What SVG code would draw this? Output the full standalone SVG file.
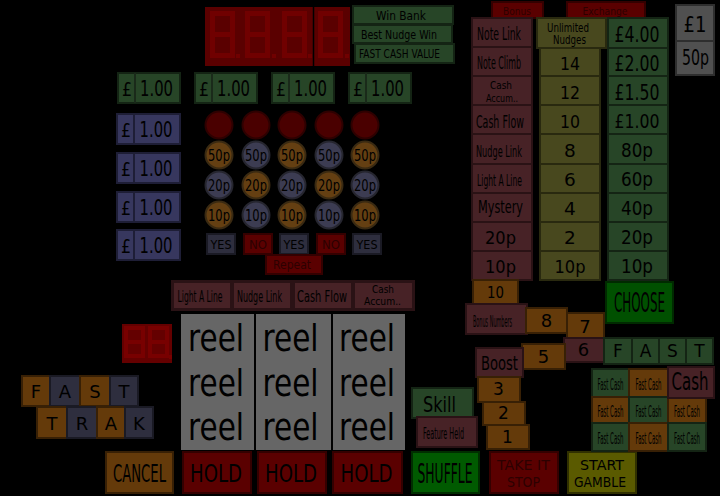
<svg xmlns="http://www.w3.org/2000/svg" width="720" height="496" viewBox="0 0 720 496">
<style>
text{font-family:"DejaVu Sans","Liberation Sans",sans-serif;text-anchor:middle;fill:#000}
.g{fill:#274527;stroke:#142414;stroke-width:2}
.b{fill:#37375e;stroke:#1e1e36;stroke-width:2}
.m{fill:#472226;stroke:#2a1215;stroke-width:2}
.o{fill:#48481e;stroke:#29290f;stroke-width:2}
.br{fill:#643a0a;stroke:#382005;stroke-width:2}
.r{fill:#5a0000;stroke:#340000;stroke-width:2}
.gy{fill:#505050;stroke:#2e2e2e;stroke-width:2}
.sl{fill:#2e2e3e;stroke:#1a1a24;stroke-width:2}
.rl{fill:#666666}
.cr{fill:#4a0000;stroke:#2e0000;stroke-width:2}
.co{fill:#643f12;stroke:#3a2a12;stroke-width:2}
.cg{fill:#3c3c52;stroke:#26262f;stroke-width:2}
.dr{fill:#2c0000}
.seg{fill:#700000;fill-rule:evenodd}
.div{stroke:#1a2a1a;stroke-width:2}
.bdiv{stroke:#1e1e36;stroke-width:2}
</style>
<rect width="720" height="496" fill="#000"/>

<g id="display-main">
<rect x="205" y="7" width="145" height="59" fill="#5a0000"/>
<line x1="313.5" y1="7" x2="313.5" y2="66" stroke="#000" stroke-width="1.5"/>
<path class="seg" d="M210 11h25v47h-25z M215 16h15v16h-15z M215 37h15v16h-15z"/>
<path class="seg" d="M245 11h25v47h-25z M250 16h15v16h-15z M250 37h15v16h-15z"/>
<path class="seg" d="M282 11h25v47h-25z M287 16h15v16h-15z M287 37h15v16h-15z"/>
<path class="seg" d="M318 11h25v47h-25z M323 16h15v16h-15z M323 37h15v16h-15z"/>
<rect x="236" y="54" width="4" height="4" fill="#700000"/>
<rect x="272" y="54" width="4" height="4" fill="#700000"/>
<rect x="308" y="54" width="4" height="4" fill="#700000"/>
<rect x="345" y="54" width="4" height="4" fill="#700000"/>
</g>

<g id="win-bank"><rect class="g" x="353" y="6" width="100" height="18"/><text x="401" y="20" font-size="11.5" textLength="50" lengthAdjust="spacingAndGlyphs">Win Bank</text></g>
<g id="best-nudge-win"><rect class="g" x="353" y="25" width="99" height="18"/><text transform="translate(399 38.5) scale(.82 1)" font-size="11.5" textLength="92.7" lengthAdjust="spacingAndGlyphs">Best Nudge Win</text></g>
<g id="fast-cash-value"><rect class="g" x="355" y="44" width="99" height="19"/><text transform="translate(399.5 58) scale(.75 1)" font-size="11.5" textLength="108" lengthAdjust="spacingAndGlyphs">FAST CASH VALUE</text></g>

<g id="top-pound-1"><rect class="g" x="118" y="73" width="62" height="30"/><line class="div" x1="135" y1="73" x2="135" y2="103"/><text transform="translate(127 96) scale(.79 1)" font-size="20" textLength="12.7" lengthAdjust="spacingAndGlyphs">£</text><text transform="translate(156.5 96) scale(.72 1)" font-size="20.5" textLength="45.8" lengthAdjust="spacingAndGlyphs">1.00</text></g>
<g id="top-pound-2"><rect class="g" x="195" y="73" width="62" height="30"/><line class="div" x1="212" y1="73" x2="212" y2="103"/><text transform="translate(204 96) scale(.79 1)" font-size="20" textLength="12.7" lengthAdjust="spacingAndGlyphs">£</text><text transform="translate(233.5 96) scale(.72 1)" font-size="20.5" textLength="45.8" lengthAdjust="spacingAndGlyphs">1.00</text></g>
<g id="top-pound-3"><rect class="g" x="272" y="73" width="62" height="30"/><line class="div" x1="289" y1="73" x2="289" y2="103"/><text transform="translate(281 96) scale(.79 1)" font-size="20" textLength="12.7" lengthAdjust="spacingAndGlyphs">£</text><text transform="translate(310.5 96) scale(.72 1)" font-size="20.5" textLength="45.8" lengthAdjust="spacingAndGlyphs">1.00</text></g>
<g id="top-pound-4"><rect class="g" x="349" y="73" width="62" height="30"/><line class="div" x1="366" y1="73" x2="366" y2="103"/><text transform="translate(358 96) scale(.79 1)" font-size="20" textLength="12.7" lengthAdjust="spacingAndGlyphs">£</text><text transform="translate(387.5 96) scale(.72 1)" font-size="20.5" textLength="45.8" lengthAdjust="spacingAndGlyphs">1.00</text></g>

<g id="side-pound-1"><rect class="b" x="117" y="114" width="63" height="30"/><line class="bdiv" x1="134" y1="114" x2="134" y2="144"/><text transform="translate(126 137) scale(.79 1)" font-size="20" textLength="12.7" lengthAdjust="spacingAndGlyphs">£</text><text transform="translate(156 137) scale(.72 1)" font-size="20.5" textLength="45.8" lengthAdjust="spacingAndGlyphs">1.00</text></g>
<g id="side-pound-2"><rect class="b" x="117" y="153" width="63" height="30"/><line class="bdiv" x1="134" y1="153" x2="134" y2="183"/><text transform="translate(126 176) scale(.79 1)" font-size="20" textLength="12.7" lengthAdjust="spacingAndGlyphs">£</text><text transform="translate(156 176) scale(.72 1)" font-size="20.5" textLength="45.8" lengthAdjust="spacingAndGlyphs">1.00</text></g>
<g id="side-pound-3"><rect class="b" x="117" y="192" width="63" height="30"/><line class="bdiv" x1="134" y1="192" x2="134" y2="222"/><text transform="translate(126 215) scale(.79 1)" font-size="20" textLength="12.7" lengthAdjust="spacingAndGlyphs">£</text><text transform="translate(156 215) scale(.72 1)" font-size="20.5" textLength="45.8" lengthAdjust="spacingAndGlyphs">1.00</text></g>
<g id="side-pound-4"><rect class="b" x="117" y="230" width="63" height="30"/><line class="bdiv" x1="134" y1="230" x2="134" y2="260"/><text transform="translate(126 253) scale(.79 1)" font-size="20" textLength="12.7" lengthAdjust="spacingAndGlyphs">£</text><text transform="translate(156 253) scale(.72 1)" font-size="20.5" textLength="45.8" lengthAdjust="spacingAndGlyphs">1.00</text></g>

<g id="coins">
<g id="coin-red-1"><circle class="cr" cx="219" cy="125" r="13.5"/></g>
<g id="coin-red-2"><circle class="cr" cx="256" cy="125" r="13.5"/></g>
<g id="coin-red-3"><circle class="cr" cx="292" cy="125" r="13.5"/></g>
<g id="coin-red-4"><circle class="cr" cx="329" cy="125" r="13.5"/></g>
<g id="coin-red-5"><circle class="cr" cx="365" cy="125" r="13.5"/></g>
<g id="coin-50-1"><circle class="co" cx="219" cy="155" r="13.5"/><text transform="translate(219 161) scale(.77 1)" font-size="15" textLength="28.6" lengthAdjust="spacingAndGlyphs">50p</text></g>
<g id="coin-50-2"><circle class="cg" cx="256" cy="155" r="13.5"/><text transform="translate(256 161) scale(.77 1)" font-size="15" textLength="28.6" lengthAdjust="spacingAndGlyphs">50p</text></g>
<g id="coin-50-3"><circle class="co" cx="292" cy="155" r="13.5"/><text transform="translate(292 161) scale(.77 1)" font-size="15" textLength="28.6" lengthAdjust="spacingAndGlyphs">50p</text></g>
<g id="coin-50-4"><circle class="cg" cx="329" cy="155" r="13.5"/><text transform="translate(329 161) scale(.77 1)" font-size="15" textLength="28.6" lengthAdjust="spacingAndGlyphs">50p</text></g>
<g id="coin-50-5"><circle class="co" cx="365" cy="155" r="13.5"/><text transform="translate(365 161) scale(.77 1)" font-size="15" textLength="28.6" lengthAdjust="spacingAndGlyphs">50p</text></g>
<g id="coin-20-1"><circle class="cg" cx="219" cy="185" r="13.5"/><text transform="translate(219 191) scale(.77 1)" font-size="15" textLength="28.6" lengthAdjust="spacingAndGlyphs">20p</text></g>
<g id="coin-20-2"><circle class="co" cx="256" cy="185" r="13.5"/><text transform="translate(256 191) scale(.77 1)" font-size="15" textLength="28.6" lengthAdjust="spacingAndGlyphs">20p</text></g>
<g id="coin-20-3"><circle class="cg" cx="292" cy="185" r="13.5"/><text transform="translate(292 191) scale(.77 1)" font-size="15" textLength="28.6" lengthAdjust="spacingAndGlyphs">20p</text></g>
<g id="coin-20-4"><circle class="co" cx="329" cy="185" r="13.5"/><text transform="translate(329 191) scale(.77 1)" font-size="15" textLength="28.6" lengthAdjust="spacingAndGlyphs">20p</text></g>
<g id="coin-20-5"><circle class="cg" cx="365" cy="185" r="13.5"/><text transform="translate(365 191) scale(.77 1)" font-size="15" textLength="28.6" lengthAdjust="spacingAndGlyphs">20p</text></g>
<g id="coin-10-1"><circle class="co" cx="219" cy="215" r="13.5"/><text transform="translate(219 221) scale(.77 1)" font-size="15" textLength="28.6" lengthAdjust="spacingAndGlyphs">10p</text></g>
<g id="coin-10-2"><circle class="cg" cx="256" cy="215" r="13.5"/><text transform="translate(256 221) scale(.77 1)" font-size="15" textLength="28.6" lengthAdjust="spacingAndGlyphs">10p</text></g>
<g id="coin-10-3"><circle class="co" cx="292" cy="215" r="13.5"/><text transform="translate(292 221) scale(.77 1)" font-size="15" textLength="28.6" lengthAdjust="spacingAndGlyphs">10p</text></g>
<g id="coin-10-4"><circle class="cg" cx="329" cy="215" r="13.5"/><text transform="translate(329 221) scale(.77 1)" font-size="15" textLength="28.6" lengthAdjust="spacingAndGlyphs">10p</text></g>
<g id="coin-10-5"><circle class="co" cx="365" cy="215" r="13.5"/><text transform="translate(365 221) scale(.77 1)" font-size="15" textLength="28.6" lengthAdjust="spacingAndGlyphs">10p</text></g>
</g>

<g id="yes-1"><rect class="sl" x="207" y="234" width="28" height="20"/><text x="221" y="249" font-size="12" textLength="21" lengthAdjust="spacingAndGlyphs">YES</text></g>
<g id="no-1"><rect class="r" x="244" y="234" width="28" height="20"/><text class="dr" x="258" y="249" font-size="12" textLength="18" lengthAdjust="spacingAndGlyphs">NO</text></g>
<g id="yes-2"><rect class="sl" x="280" y="234" width="28" height="20"/><text x="294" y="249" font-size="12" textLength="21" lengthAdjust="spacingAndGlyphs">YES</text></g>
<g id="no-2"><rect class="r" x="317" y="234" width="28" height="20"/><text class="dr" x="331" y="249" font-size="12" textLength="18" lengthAdjust="spacingAndGlyphs">NO</text></g>
<g id="yes-3"><rect class="sl" x="353" y="234" width="28" height="20"/><text x="367" y="249" font-size="12" textLength="21" lengthAdjust="spacingAndGlyphs">YES</text></g>
<g id="repeat"><rect class="r" x="266" y="255" width="56" height="19"/><text class="dr" transform="translate(292 269) scale(.82 1)" font-size="13" textLength="46.3" lengthAdjust="spacingAndGlyphs">Repeat</text></g>

<g id="bonus"><rect class="r" x="492" y="2" width="51" height="16"/><text class="dr" transform="translate(517 15) scale(.82 1)" font-size="11" textLength="34.1" lengthAdjust="spacingAndGlyphs">Bonus</text></g>
<g id="exchange"><rect class="r" x="567" y="2" width="78" height="16"/><text class="dr" transform="translate(605 15) scale(.83 1)" font-size="11" textLength="54.2" lengthAdjust="spacingAndGlyphs">Exchange</text></g>

<g id="bonus-note-link"><rect class="m" x="472" y="18" width="60" height="29"/><text transform="translate(499 40) scale(.547 1)" font-size="17" textLength="80.4" lengthAdjust="spacingAndGlyphs">Note Link</text></g>
<g id="bonus-note-climb"><rect class="m" x="472" y="47" width="60" height="29"/><text transform="translate(499 69) scale(.467 1)" font-size="17" textLength="94.2" lengthAdjust="spacingAndGlyphs">Note Climb</text></g>
<g id="bonus-cash-accum"><rect class="m" x="472" y="76" width="60" height="29"/><text transform="translate(501 89) scale(.81 1)" font-size="11" textLength="27.2" lengthAdjust="spacingAndGlyphs">Cash</text><text transform="translate(502 102) scale(.72 1)" font-size="11" textLength="44.4" lengthAdjust="spacingAndGlyphs">Accum..</text></g>
<g id="bonus-cash-flow"><rect class="m" x="472" y="105" width="60" height="29"/><text transform="translate(500 127.5) scale(.557 1)" font-size="17" textLength="86.2" lengthAdjust="spacingAndGlyphs">Cash Flow</text></g>
<g id="bonus-nudge-link"><rect class="m" x="472" y="134" width="60" height="30"/><text transform="translate(499 156.5) scale(.495 1)" font-size="16.5" textLength="92.9" lengthAdjust="spacingAndGlyphs">Nudge Link</text></g>
<g id="bonus-light-a-line"><rect class="m" x="472" y="164" width="60" height="29"/><text transform="translate(499.5 186) scale(.462 1)" font-size="16.5" textLength="97.4" lengthAdjust="spacingAndGlyphs">Light A Line</text></g>
<g id="bonus-mystery"><rect class="m" x="472" y="193" width="60" height="29"/><text transform="translate(500.5 213) scale(.664 1)" font-size="17" textLength="67.8" lengthAdjust="spacingAndGlyphs">Mystery</text></g>
<g id="bonus-20p"><rect class="m" x="472" y="222" width="60" height="29"/><text x="500.5" y="244" font-size="17" textLength="31" lengthAdjust="spacingAndGlyphs">20p</text></g>
<g id="bonus-10p"><rect class="m" x="472" y="251" width="60" height="29"/><text x="500.5" y="273" font-size="17" textLength="31" lengthAdjust="spacingAndGlyphs">10p</text></g>

<g id="nudges-unlimited"><rect class="o" x="537" y="18" width="69" height="30"/><text transform="translate(568 32) scale(.76 1)" font-size="11.5" textLength="55.3" lengthAdjust="spacingAndGlyphs">Unlimited</text><text transform="translate(569.5 44) scale(.76 1)" font-size="11.5" textLength="43.4" lengthAdjust="spacingAndGlyphs">Nudges</text></g>
<g id="nudges-14"><rect class="o" x="540" y="48" width="60" height="28"/><text x="570" y="70" font-size="18.5" textLength="20" lengthAdjust="spacingAndGlyphs">14</text></g>
<g id="nudges-12"><rect class="o" x="540" y="76" width="60" height="29"/><text x="570" y="99" font-size="18.5" textLength="20" lengthAdjust="spacingAndGlyphs">12</text></g>
<g id="nudges-10"><rect class="o" x="540" y="105" width="60" height="29"/><text x="570" y="128" font-size="18.5" textLength="20" lengthAdjust="spacingAndGlyphs">10</text></g>
<g id="nudges-8"><rect class="o" x="540" y="134" width="60" height="30"/><text x="570" y="157" font-size="18.5">8</text></g>
<g id="nudges-6"><rect class="o" x="540" y="164" width="60" height="29"/><text x="570" y="186" font-size="18.5">6</text></g>
<g id="nudges-4"><rect class="o" x="540" y="193" width="60" height="29"/><text x="570" y="215" font-size="18.5">4</text></g>
<g id="nudges-2"><rect class="o" x="540" y="222" width="60" height="29"/><text x="570" y="244" font-size="18.5">2</text></g>
<g id="nudges-10p"><rect class="o" x="540" y="251" width="60" height="29"/><text x="570" y="273" font-size="18.5" textLength="31" lengthAdjust="spacingAndGlyphs">10p</text></g>

<g id="exch-4-00"><rect class="g" x="608" y="18" width="60" height="30"/><text transform="translate(637 41.5) scale(.75 1)" font-size="21" textLength="60" lengthAdjust="spacingAndGlyphs">£4.00</text></g>
<g id="exch-2-00"><rect class="g" x="608" y="48" width="60" height="28"/><text transform="translate(637 70.5) scale(.75 1)" font-size="21" textLength="60" lengthAdjust="spacingAndGlyphs">£2.00</text></g>
<g id="exch-1-50"><rect class="g" x="608" y="76" width="60" height="29"/><text transform="translate(637 99.5) scale(.75 1)" font-size="21" textLength="60" lengthAdjust="spacingAndGlyphs">£1.50</text></g>
<g id="exch-1-00"><rect class="g" x="608" y="105" width="60" height="29"/><text transform="translate(637 128) scale(.79 1)" font-size="20" textLength="57" lengthAdjust="spacingAndGlyphs">£1.00</text></g>
<g id="exch-80p"><rect class="g" x="608" y="134" width="60" height="30"/><text x="637" y="157" font-size="19.5" textLength="32" lengthAdjust="spacingAndGlyphs">80p</text></g>
<g id="exch-60p"><rect class="g" x="608" y="164" width="60" height="29"/><text x="637" y="186" font-size="19.5" textLength="32" lengthAdjust="spacingAndGlyphs">60p</text></g>
<g id="exch-40p"><rect class="g" x="608" y="193" width="60" height="29"/><text x="637" y="215" font-size="19.5" textLength="32" lengthAdjust="spacingAndGlyphs">40p</text></g>
<g id="exch-20p"><rect class="g" x="608" y="222" width="60" height="29"/><text x="637" y="244" font-size="19.5" textLength="32" lengthAdjust="spacingAndGlyphs">20p</text></g>
<g id="exch-10p"><rect class="g" x="608" y="251" width="60" height="29"/><text x="637" y="273" font-size="19.5" textLength="32" lengthAdjust="spacingAndGlyphs">10p</text></g>

<g id="coin-pound"><rect class="gy" x="676" y="5" width="38" height="36"/><text transform="translate(695 32) scale(.82 1)" font-size="22" textLength="28" lengthAdjust="spacingAndGlyphs">£1</text></g>
<g id="coin-50p"><rect class="gy" x="676" y="41" width="38" height="34"/><text transform="translate(695.5 65) scale(.64 1)" font-size="22" textLength="42.2" lengthAdjust="spacingAndGlyphs">50p</text></g>

<g id="feature-bar">
<rect x="171" y="280" width="244" height="31" fill="#2a1215"/>
<g id="bar-light-a-line"><rect class="m" x="173" y="282" width="58" height="27"/><text transform="translate(200 302) scale(.477 1)" font-size="16" textLength="94.3" lengthAdjust="spacingAndGlyphs">Light A Line</text></g>
<g id="bar-nudge-link"><rect class="m" x="233" y="282" width="58" height="27"/><text transform="translate(259.5 302) scale(.5 1)" font-size="16" textLength="90" lengthAdjust="spacingAndGlyphs">Nudge Link</text></g>
<g id="bar-cash-flow"><rect class="m" x="294" y="282" width="58" height="27"/><text transform="translate(322 302) scale(.617 1)" font-size="16" textLength="81" lengthAdjust="spacingAndGlyphs">Cash Flow</text></g>
<g id="bar-cash-accum"><rect class="m" x="354" y="282" width="59" height="27"/><text transform="translate(383 293) scale(.81 1)" font-size="11" textLength="27.2" lengthAdjust="spacingAndGlyphs">Cash</text><text transform="translate(382.5 305) scale(.835 1)" font-size="11" textLength="44.3" lengthAdjust="spacingAndGlyphs">Accum..</text></g>
</g>

<g id="display-small">
<rect x="122" y="324" width="50" height="39" fill="#640000"/>
<path class="seg" style="fill:#780000" d="M124 326h21v32h-21z M128 330h13v10h-13z M128 344h13v10h-13z"/>
<path class="seg" style="fill:#780000" d="M148 326h21v32h-21z M152 330h13v10h-13z M152 344h13v10h-13z"/>
<rect x="169" y="355" width="3" height="4" fill="#780000"/>
</g>

<g id="reel-1"><rect class="rl" x="181" y="314" width="73" height="136"/><text transform="translate(216 351) scale(.768 1)" font-size="38" textLength="72.9" lengthAdjust="spacingAndGlyphs">reel</text><text transform="translate(216 396) scale(.768 1)" font-size="38" textLength="72.9" lengthAdjust="spacingAndGlyphs">reel</text><text transform="translate(216 440) scale(.768 1)" font-size="38" textLength="72.9" lengthAdjust="spacingAndGlyphs">reel</text></g>
<g id="reel-2"><rect class="rl" x="256" y="314" width="75" height="136"/><text transform="translate(290.5 351) scale(.768 1)" font-size="38" textLength="72.9" lengthAdjust="spacingAndGlyphs">reel</text><text transform="translate(290.5 396) scale(.768 1)" font-size="38" textLength="72.9" lengthAdjust="spacingAndGlyphs">reel</text><text transform="translate(290.5 440) scale(.768 1)" font-size="38" textLength="72.9" lengthAdjust="spacingAndGlyphs">reel</text></g>
<g id="reel-3"><rect class="rl" x="333" y="314" width="72" height="136"/><text transform="translate(367 351) scale(.768 1)" font-size="38" textLength="72.9" lengthAdjust="spacingAndGlyphs">reel</text><text transform="translate(367 396) scale(.768 1)" font-size="38" textLength="72.9" lengthAdjust="spacingAndGlyphs">reel</text><text transform="translate(367 440) scale(.768 1)" font-size="38" textLength="72.9" lengthAdjust="spacingAndGlyphs">reel</text></g>

<g id="trail-fast">
<g id="trail-f"><rect class="br" x="22" y="376" width="28" height="30"/><text x="36" y="398" font-size="18">F</text></g>
<g id="trail-a"><rect class="sl" x="50" y="376" width="30" height="30"/><text x="65" y="398" font-size="18">A</text></g>
<g id="trail-s"><rect class="br" x="80" y="376" width="30" height="30"/><text x="95" y="398" font-size="18">S</text></g>
<g id="trail-t"><rect class="sl" x="110" y="376" width="28" height="30"/><text x="124" y="398" font-size="18">T</text></g>
</g>
<g id="trail-trak">
<g id="trail-t2"><rect class="br" x="37" y="407" width="30" height="31"/><text x="52" y="430" font-size="18">T</text></g>
<g id="trail-r"><rect class="sl" x="67" y="407" width="30" height="31"/><text x="82" y="430" font-size="18">R</text></g>
<g id="trail-a2"><rect class="br" x="97" y="407" width="28" height="31"/><text x="111" y="430" font-size="18">A</text></g>
<g id="trail-k"><rect class="sl" x="125" y="407" width="28" height="31"/><text x="139" y="430" font-size="18">K</text></g>
</g>

<g id="btn-cancel"><rect class="br" x="106" y="452" width="67" height="41"/><text transform="translate(139.5 482) scale(.528 1)" font-size="25" textLength="100.4" lengthAdjust="spacingAndGlyphs">CANCEL</text></g>
<g id="btn-hold-1"><rect class="r" x="183" y="452" width="68" height="41"/><text transform="translate(216 482) scale(.725 1)" font-size="25" textLength="71.7" lengthAdjust="spacingAndGlyphs">HOLD</text></g>
<g id="btn-hold-2"><rect class="r" x="258" y="452" width="68" height="41"/><text transform="translate(291 482) scale(.725 1)" font-size="25" textLength="71.7" lengthAdjust="spacingAndGlyphs">HOLD</text></g>
<g id="btn-hold-3"><rect class="r" x="333" y="452" width="69" height="41"/><text transform="translate(366.5 482) scale(.725 1)" font-size="25" textLength="71.7" lengthAdjust="spacingAndGlyphs">HOLD</text></g>
<g id="btn-shuffle"><rect x="412" y="452" width="67" height="41" fill="#005a00" stroke="#002e00" stroke-width="2"/><text transform="translate(445 483) scale(.457 1)" font-size="27" textLength="120.4" lengthAdjust="spacingAndGlyphs">SHUFFLE</text></g>
<g id="btn-take-it"><rect class="r" x="490" y="452" width="68" height="41"/><text class="dr" x="523.5" y="470" font-size="14" textLength="53" lengthAdjust="spacingAndGlyphs">TAKE IT</text><text class="dr" x="523.5" y="487" font-size="14" textLength="33" lengthAdjust="spacingAndGlyphs">STOP</text></g>
<g id="btn-start"><rect x="568" y="452" width="68" height="41" fill="#5a5a00" stroke="#303000" stroke-width="2"/><text x="602" y="470" font-size="14" textLength="44" lengthAdjust="spacingAndGlyphs">START</text><text x="600" y="487" font-size="14" textLength="52" lengthAdjust="spacingAndGlyphs">GAMBLE</text></g>

<g id="skill"><rect class="g" x="412" y="388" width="61" height="30"/><text transform="translate(439.5 412) scale(.73 1)" font-size="22" textLength="45.2" lengthAdjust="spacingAndGlyphs">Skill</text></g>
<g id="feature-held"><rect class="m" x="417" y="417" width="60" height="30"/><text transform="translate(443.5 439) scale(.397 1)" font-size="16" textLength="103.3" lengthAdjust="spacingAndGlyphs">Feature Held</text></g>

<g id="bn-10"><rect class="br" x="473" y="280" width="45" height="24"/><text x="495.5" y="298" font-size="15.5" textLength="17" lengthAdjust="spacingAndGlyphs">10</text></g>
<g id="bonus-numbers"><rect class="m" x="466" y="304" width="61" height="30"/><text transform="translate(492.5 327) scale(.327 1)" font-size="15" textLength="119.3" lengthAdjust="spacingAndGlyphs">Bonus Numbers</text></g>
<g id="bn-8"><rect class="br" x="526" y="308" width="41" height="25"/><text x="546.5" y="327" font-size="18">8</text></g>
<g id="bn-7"><rect class="br" x="567" y="313" width="37" height="25"/><text x="585" y="333" font-size="18">7</text></g>
<g id="bn-6"><rect class="m" x="564" y="338" width="40" height="24"/><text x="583.5" y="356" font-size="18">6</text></g>
<g id="bn-5"><rect class="br" x="522" y="344" width="43" height="25"/><text x="543.5" y="363" font-size="18">5</text></g>
<g id="boost"><rect class="m" x="476" y="348" width="47" height="29"/><text transform="translate(499.5 370) scale(.655 1)" font-size="20" textLength="56.5" lengthAdjust="spacingAndGlyphs">Boost</text></g>
<g id="bn-3"><rect class="br" x="478" y="377" width="42" height="25"/><text x="498.5" y="395" font-size="17">3</text></g>
<g id="bn-2"><rect class="br" x="483" y="402" width="42" height="23"/><text x="503.5" y="419" font-size="17">2</text></g>
<g id="bn-1"><rect class="br" x="487" y="425" width="42" height="24"/><text x="507.5" y="443" font-size="17">1</text></g>

<g id="choose"><rect x="606" y="282" width="67" height="41" fill="#005000" stroke="#002a00" stroke-width="2"/><text transform="translate(639.5 312) scale(.457 1)" font-size="26" textLength="111.6" lengthAdjust="spacingAndGlyphs">CHOOSE</text></g>

<g id="fast-letters">
<g id="fast-f"><rect class="g" x="604" y="338" width="28" height="26"/><text x="618" y="357" font-size="17">F</text></g>
<g id="fast-a"><rect class="g" x="632" y="338" width="27" height="26"/><text x="645.5" y="357" font-size="17">A</text></g>
<g id="fast-s"><rect class="g" x="659" y="338" width="27" height="26"/><text x="672.5" y="357" font-size="17">S</text></g>
<g id="fast-t"><rect class="g" x="686" y="338" width="27" height="26"/><text x="699.5" y="357" font-size="17">T</text></g>
</g>

<g id="fast-cash-grid">
<g id="fc-1-1"><rect class="g" x="592" y="369" width="37" height="28"/><text transform="translate(610.5 390) scale(.333 1)" font-size="16" textLength="78" lengthAdjust="spacingAndGlyphs">Fast Cash</text></g>
<g id="fc-1-2"><rect class="br" x="629" y="369" width="39" height="28"/><text transform="translate(648.5 390) scale(.333 1)" font-size="16" textLength="78" lengthAdjust="spacingAndGlyphs">Fast Cash</text></g>
<g id="fc-2-1"><rect class="br" x="592" y="397" width="37" height="26"/><text transform="translate(610.5 417) scale(.333 1)" font-size="16" textLength="78" lengthAdjust="spacingAndGlyphs">Fast Cash</text></g>
<g id="fc-2-2"><rect class="g" x="629" y="397" width="39" height="26"/><text transform="translate(648.5 417) scale(.333 1)" font-size="16" textLength="78" lengthAdjust="spacingAndGlyphs">Fast Cash</text></g>
<g id="fc-2-3"><rect class="br" x="668" y="397" width="38" height="26"/><text transform="translate(687 417) scale(.333 1)" font-size="16" textLength="78" lengthAdjust="spacingAndGlyphs">Fast Cash</text></g>
<g id="fc-3-1"><rect class="g" x="592" y="423" width="37" height="28"/><text transform="translate(610.5 444) scale(.333 1)" font-size="16" textLength="78" lengthAdjust="spacingAndGlyphs">Fast Cash</text></g>
<g id="fc-3-2"><rect class="br" x="629" y="423" width="39" height="28"/><text transform="translate(648.5 444) scale(.333 1)" font-size="16" textLength="78" lengthAdjust="spacingAndGlyphs">Fast Cash</text></g>
<g id="fc-3-3"><rect class="g" x="668" y="423" width="38" height="28"/><text transform="translate(687 444) scale(.333 1)" font-size="16" textLength="78" lengthAdjust="spacingAndGlyphs">Fast Cash</text></g>
<g id="fc-cash"><rect class="m" x="668" y="367" width="46" height="31"/><text transform="translate(690 390) scale(.6 1)" font-size="25" textLength="61.7" lengthAdjust="spacingAndGlyphs">Cash</text></g>
</g>

<g id="connectors"/>
</svg>
